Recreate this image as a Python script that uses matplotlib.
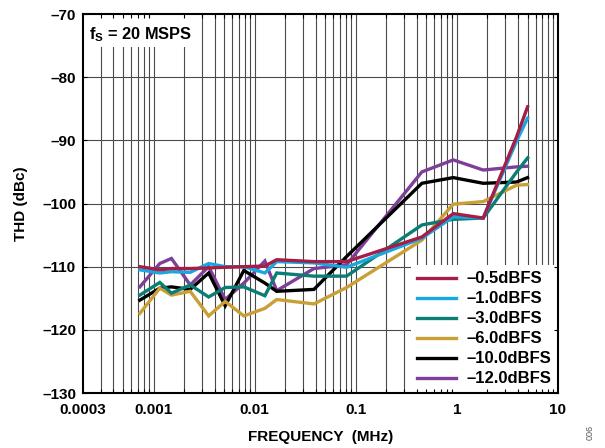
import matplotlib
matplotlib.use("Agg")
import matplotlib.pyplot as plt
from matplotlib.patches import Rectangle
from matplotlib.ticker import FixedLocator, NullFormatter

plt.rcParams['font.family'] = ['Liberation Sans', 'DejaVu Sans']
plt.rcParams['font.weight'] = 'bold'
plt.rcParams['mathtext.fontset'] = 'custom'
plt.rcParams['mathtext.bf'] = 'Liberation Sans:bold'
plt.rcParams['mathtext.rm'] = 'Liberation Sans:bold'
plt.rcParams['mathtext.it'] = 'Liberation Sans:bold'

# input frequency points (MHz)
freq_mhz = [0.00073, 0.00115, 0.0015, 0.0023, 0.0035, 0.0051, 0.0078, 0.0126,
            0.0165, 0.0385, 0.081, 0.45, 0.92, 1.82, 3.9, 5.0]

# THD (dBc) per input level
thd_0p5 = [-110.0, -110.5, -110.3, -110.3, -110.2, -110.1, -110.0, -109.9,
           -108.9, -109.2, -109.2, -105.3, -101.6, -102.3, -89.4, -84.7]
thd_1p0 = [-110.5, -111.0, -110.8, -110.9, -109.5, -110.0, -110.0, -111.0,
           -109.2, -109.4, -110.1, -105.5, -102.1, -102.3, -90.1, -86.5]
thd_3p0 = [-114.5, -112.5, -114.2, -112.9, -114.8, -113.3, -113.2, -114.6,
           -111.0, -111.5, -111.5, -103.4, -102.5, -102.3, -95.0, -92.8]
thd_6p0 = [-117.4, -113.4, -114.5, -113.9, -117.8, -115.5, -117.8, -116.6,
           -115.2, -115.9, -113.3, -105.8, -100.1, -99.7, -97.1, -97.0]
thd_10p0 = [-115.3, -113.4, -113.2, -113.6, -111.0, -116.2, -110.6, -112.6,
            -113.9, -113.6, -108.4, -96.8, -95.9, -96.8, -96.6, -95.9]
thd_12p0 = [-113.2, -109.5, -108.7, -112.9, -110.0, -115.2, -112.6, -109.1,
            -113.8, -110.3, -109.7, -95.0, -93.1, -94.7, -94.2, -94.1]

series = [thd_0p5, thd_1p0, thd_3p0, thd_6p0, thd_10p0, thd_12p0]
series_labels = ['–0.5dBFS', '–1.0dBFS', '–3.0dBFS', '–6.0dBFS', '–10.0dBFS', '–12.0dBFS']
series_colors = ['#A51E48', '#1AA7E0', '#0A7D74', '#C9A035', '#000000', '#7E3F98']

# the original labels the left edge (0.0002) as "0.0003"
x_ticks = [0.0002, 0.001, 0.01, 0.1, 1, 10]
x_tick_labels = ['0.0003', '0.001', '0.01', '0.1', '1', '10']
y_ticks = [-130, -120, -110, -100, -90, -80, -70]
y_tick_labels = ['–130', '–120', '–110', '–100', '–90', '–80', '–70']

x_grid = [m * 10.0 ** e for e in range(-4, 1) for m in range(1, 10)
          if 0.0002 < m * 10.0 ** e < 10]

fig = plt.figure(figsize=(6.05, 4.48), dpi=100)
ax = fig.add_axes([83 / 605, 55 / 448, 475 / 605, 379 / 448])
ax.set_xscale('log')
ax.set_xlim(0.0002, 10)
ax.set_ylim(-130, -70)

grid_color = '#4a4a4a'
for gx in x_grid:
    ax.axvline(gx, color=grid_color, lw=0.8, zorder=1)
for gy in y_ticks[1:-1]:
    ax.axhline(gy, color=grid_color, lw=0.8, zorder=1)

handles = []
for values, label, color in zip(series, series_labels, series_colors):
    line, = ax.plot(freq_mhz, values, color=color, lw=2.4, label=label,
                    solid_joinstyle='miter', zorder=2)
    handles.append(line)
# lowest level drawn first so -0.5dBFS sits on top
for i, line in enumerate(handles):
    line.set_zorder(2 + (len(handles) - i) * 0.01)

ax.set_xticks(x_ticks)
ax.set_xticklabels(x_tick_labels)
ax.xaxis.set_minor_locator(FixedLocator(x_grid))
ax.xaxis.set_minor_formatter(NullFormatter())
ax.set_yticks(y_ticks)
ax.set_yticklabels(y_tick_labels)
ax.tick_params(axis='x', which='major', length=0, pad=7, labelsize=11)
ax.tick_params(axis='x', which='minor', direction='in', length=3, width=0.8,
               top=True, bottom=True)
ax.tick_params(axis='y', which='major', direction='in', length=3, width=0.8,
               left=True, right=True, pad=5, labelsize=11)

for spine in ax.spines.values():
    spine.set_linewidth(1.5)
    spine.set_zorder(5)
ax.xaxis.set_zorder(4)
ax.yaxis.set_zorder(4)

ax.set_xlabel('FREQUENCY  (MHz)', fontsize=11, fontweight='bold')
ax.xaxis.set_label_coords(0.5, -0.098)
ax.set_ylabel('THD (dBc)', fontsize=11, fontweight='bold')
ax.yaxis.set_label_coords(-0.116, 0.5)

# white patch behind the sample-rate note
ax.add_patch(Rectangle((0, 0.913), 0.24, 0.087, transform=ax.transAxes,
                       facecolor='white', edgecolor='none', zorder=3))
ax.text(0.012, 0.934, r'$\mathbf{f_S}$ = 20 MSPS', transform=ax.transAxes,
        fontsize=11.8, fontweight='bold', va='baseline', ha='left', zorder=3.5)

leg = ax.legend(handles=handles, loc='lower right', bbox_to_anchor=(1, 0),
                borderaxespad=0, fontsize=12, handlelength=2.35,
                handletextpad=0.6, labelspacing=0.3, borderpad=0.4,
                fancybox=False, framealpha=1, edgecolor='none')
leg.get_frame().set_facecolor('white')
leg.set_zorder(3)
for lh in leg.get_lines():
    lh.set_linewidth(2.4)

fig.text(590 / 605, 1 - 432 / 448, '006', rotation=90, fontsize=6.5,
         fontweight='normal', color='#555555', ha='center', va='center')

fig.savefig('out.png', dpi=100, facecolor='white')
